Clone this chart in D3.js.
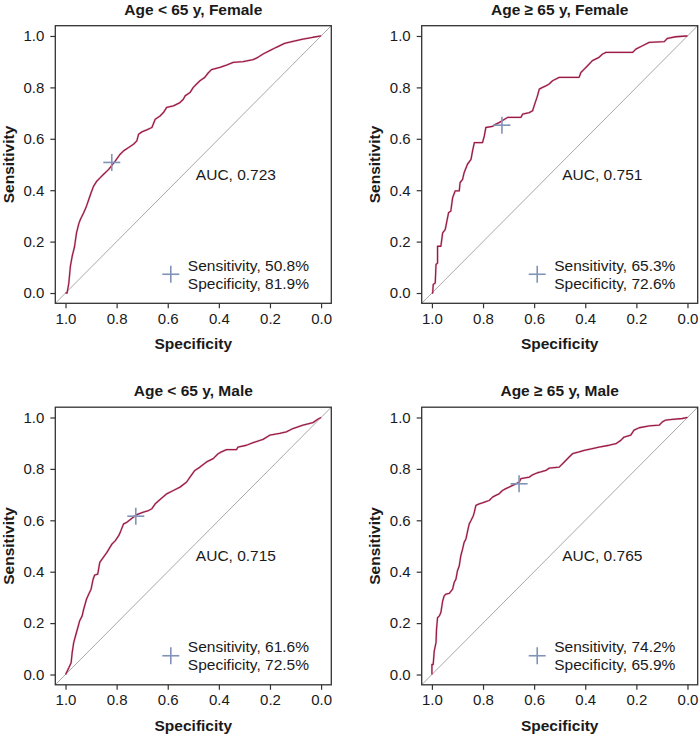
<!DOCTYPE html>
<html>
<head>
<meta charset="utf-8">
<script src="https://cdn.jsdelivr.net/npm/d3@7"></script>
<style>
  html, body { margin: 0; padding: 0; background: #fff; }
  svg { display: block; font-family: "Liberation Sans", Arial, Helvetica, sans-serif; }
</style>
</head>
<body>
<svg id="chart" width="700" height="736"></svg>
<script>
// ---------------- Data ----------------
const panelTitles = ["Age < 65 y, Female", "Age \u2265 65 y, Female", "Age < 65 y, Male", "Age \u2265 65 y, Male"];
const aucValues = ["0.723", "0.751", "0.715", "0.765"];
const bestSensitivity = [0.508, 0.653, 0.616, 0.742];
const bestSpecificity = [0.819, 0.726, 0.725, 0.659];
const tickValues = [0.0, 0.2, 0.4, 0.6, 0.8, 1.0];

// Panel 1: Age < 65 y, Female
const spec1 = [1.0, 0.994, 0.987, 0.981, 0.974, 0.965, 0.957, 0.948, 0.942, 0.929, 0.918, 0.909, 0.900, 0.890, 0.877, 0.864, 0.851, 0.831, 0.821, 0.805, 0.786, 0.773, 0.753, 0.734, 0.721, 0.714, 0.701, 0.682, 0.662, 0.649, 0.630, 0.617, 0.604, 0.578, 0.552, 0.539, 0.532, 0.513, 0.500, 0.487, 0.474, 0.455, 0.442, 0.429, 0.396, 0.370, 0.344, 0.305, 0.266, 0.247, 0.227, 0.201, 0.175, 0.143, 0.110, 0.071, 0.032, 0.0];
const sens1 = [0.0, 0.0, 0.039, 0.104, 0.143, 0.179, 0.234, 0.270, 0.286, 0.312, 0.338, 0.364, 0.390, 0.416, 0.436, 0.449, 0.462, 0.481, 0.494, 0.514, 0.540, 0.553, 0.566, 0.579, 0.592, 0.618, 0.627, 0.635, 0.644, 0.676, 0.689, 0.702, 0.722, 0.728, 0.741, 0.754, 0.767, 0.780, 0.800, 0.813, 0.826, 0.839, 0.856, 0.869, 0.878, 0.887, 0.897, 0.900, 0.908, 0.917, 0.930, 0.943, 0.956, 0.971, 0.979, 0.988, 0.995, 1.0];

// Panel 2: Age >= 65 y, Female
const spec2 = [1.0, 0.997, 0.995, 0.987, 0.984, 0.978, 0.978, 0.965, 0.958, 0.948, 0.935, 0.926, 0.919, 0.909, 0.893, 0.890, 0.880, 0.874, 0.861, 0.847, 0.841, 0.834, 0.802, 0.795, 0.789, 0.763, 0.750, 0.737, 0.711, 0.704, 0.652, 0.645, 0.619, 0.606, 0.600, 0.587, 0.580, 0.567, 0.554, 0.541, 0.528, 0.502, 0.424, 0.417, 0.404, 0.391, 0.372, 0.346, 0.332, 0.319, 0.215, 0.202, 0.176, 0.150, 0.091, 0.078, 0.046, 0.004, 0.0];
const sens2 = [0.0, 0.0, 0.033, 0.039, 0.111, 0.117, 0.182, 0.182, 0.234, 0.247, 0.312, 0.319, 0.371, 0.397, 0.397, 0.429, 0.442, 0.468, 0.501, 0.520, 0.553, 0.585, 0.585, 0.611, 0.644, 0.648, 0.657, 0.663, 0.679, 0.683, 0.683, 0.696, 0.702, 0.709, 0.728, 0.767, 0.793, 0.800, 0.806, 0.813, 0.826, 0.839, 0.839, 0.858, 0.871, 0.884, 0.904, 0.917, 0.930, 0.936, 0.936, 0.949, 0.962, 0.975, 0.978, 0.991, 0.997, 1.0, 1.0];

// Panel 3: Age < 65 y, Male
const spec3 = [1.0, 0.987, 0.978, 0.974, 0.968, 0.961, 0.952, 0.945, 0.935, 0.929, 0.918, 0.909, 0.900, 0.892, 0.886, 0.874, 0.866, 0.857, 0.838, 0.818, 0.805, 0.792, 0.786, 0.773, 0.760, 0.740, 0.721, 0.695, 0.675, 0.662, 0.649, 0.630, 0.604, 0.578, 0.552, 0.526, 0.513, 0.494, 0.474, 0.448, 0.422, 0.403, 0.390, 0.370, 0.331, 0.325, 0.292, 0.266, 0.227, 0.201, 0.162, 0.136, 0.110, 0.071, 0.032, 0.013, 0.0];
const sens3 = [0.0, 0.026, 0.046, 0.085, 0.124, 0.150, 0.182, 0.208, 0.228, 0.254, 0.293, 0.313, 0.332, 0.371, 0.387, 0.391, 0.436, 0.449, 0.475, 0.508, 0.521, 0.540, 0.553, 0.586, 0.592, 0.608, 0.622, 0.632, 0.638, 0.645, 0.664, 0.681, 0.703, 0.716, 0.729, 0.749, 0.768, 0.794, 0.807, 0.827, 0.840, 0.859, 0.866, 0.875, 0.875, 0.885, 0.892, 0.902, 0.915, 0.931, 0.938, 0.944, 0.957, 0.970, 0.980, 0.993, 1.0];

// Panel 4: Age >= 65 y, Male
const spec4 = [1.0, 1.0, 0.995, 0.991, 0.984, 0.982, 0.978, 0.971, 0.965, 0.958, 0.952, 0.945, 0.932, 0.919, 0.913, 0.906, 0.900, 0.893, 0.887, 0.880, 0.874, 0.867, 0.860, 0.854, 0.847, 0.838, 0.834, 0.828, 0.815, 0.802, 0.789, 0.776, 0.763, 0.750, 0.737, 0.724, 0.711, 0.698, 0.684, 0.671, 0.658, 0.652, 0.619, 0.606, 0.587, 0.574, 0.554, 0.541, 0.502, 0.482, 0.463, 0.450, 0.424, 0.404, 0.372, 0.346, 0.306, 0.280, 0.261, 0.248, 0.222, 0.209, 0.189, 0.150, 0.111, 0.098, 0.085, 0.059, 0.020, 0.0];
const sens4 = [0.0, 0.039, 0.039, 0.091, 0.124, 0.176, 0.221, 0.228, 0.241, 0.286, 0.306, 0.313, 0.316, 0.332, 0.358, 0.371, 0.404, 0.423, 0.462, 0.488, 0.514, 0.527, 0.560, 0.586, 0.599, 0.618, 0.632, 0.658, 0.664, 0.668, 0.673, 0.677, 0.690, 0.697, 0.703, 0.716, 0.723, 0.729, 0.736, 0.742, 0.749, 0.762, 0.768, 0.777, 0.785, 0.788, 0.794, 0.803, 0.807, 0.827, 0.846, 0.859, 0.866, 0.872, 0.879, 0.885, 0.892, 0.898, 0.911, 0.924, 0.931, 0.951, 0.960, 0.967, 0.970, 0.983, 0.990, 0.993, 0.996, 1.0];

const specs = [spec1, spec2, spec3, spec4];
const senss = [sens1, sens2, sens3, sens4];

// ---------------- Layout ----------------
const boxW = 276, boxH = 277.6;
const origins = [[55.3, 25.7], [421.7, 25.7], [55.3, 407.2], [421.7, 407.2]];
const curveColor = "#9b1b48";
const crossColor = "#8094b8";
const textColor = "#1a1a1a";

const svg = d3.select("#chart");

origins.forEach(([ox, oy], i) => {
  const g = svg.append("g").attr("transform", `translate(${ox},${oy})`);
  const x = d3.scaleLinear().domain([1.04, -0.04]).range([0, boxW]);
  const y = d3.scaleLinear().domain([-0.04, 1.04]).range([boxH, 0]);

  // diagonal reference line (spans whole plot region)
  g.append("line")
    .attr("x1", x(1.04)).attr("y1", y(-0.04))
    .attr("x2", x(-0.04)).attr("y2", y(1.04))
    .attr("stroke", "#a8a8a8").attr("stroke-width", 1);

  // ROC curve
  const pts = specs[i].map((s, k) => [s, senss[i][k]]);
  g.append("path")
    .datum(pts)
    .attr("fill", "none")
    .attr("stroke", "#d9a3b6")
    .attr("stroke-width", 2.2)
    .attr("stroke-opacity", 0.5)
    .attr("stroke-linejoin", "round")
    .attr("d", d3.line().x(d => x(d[0])).y(d => y(d[1])));
  g.append("path")
    .datum(pts)
    .attr("fill", "none")
    .attr("stroke", curveColor)
    .attr("stroke-width", 1.3)
    .attr("stroke-linejoin", "round")
    .attr("d", d3.line().x(d => x(d[0])).y(d => y(d[1])));

  // best-threshold cross
  const cx = x(bestSpecificity[i]), cy = y(bestSensitivity[i]);
  const cs = 8.5;
  g.append("line").attr("x1", cx - cs).attr("x2", cx + cs).attr("y1", cy).attr("y2", cy)
    .attr("stroke", crossColor).attr("stroke-width", 1.6);
  g.append("line").attr("x1", cx).attr("x2", cx).attr("y1", cy - cs).attr("y2", cy + cs)
    .attr("stroke", crossColor).attr("stroke-width", 1.6);

  // box
  g.append("rect").attr("x", 0).attr("y", 0).attr("width", boxW).attr("height", boxH)
    .attr("fill", "none").attr("stroke", "#333").attr("stroke-width", 1.3);

  // axes
  const xAxis = d3.axisBottom(x).tickValues(tickValues).tickSize(5).tickPadding(5)
    .tickFormat(d3.format(".1f"));
  const yAxis = d3.axisLeft(y).tickValues(tickValues).tickSize(5).tickPadding(6)
    .tickFormat(d3.format(".1f"));
  const gx = g.append("g").attr("transform", `translate(0,${boxH})`).call(xAxis);
  const gy = g.append("g").call(yAxis);
  [gx, gy].forEach(ax => {
    ax.select(".domain").remove();
    ax.selectAll(".tick line").attr("stroke", "#333").attr("stroke-width", 1.2);
    ax.selectAll(".tick text").attr("fill", textColor).style("font-size", "15px");
  });
  gx.selectAll(".tick text").attr("dy", "0.71em");

  // title
  g.append("text").attr("x", boxW / 2).attr("y", -11.2)
    .attr("text-anchor", "middle").attr("fill", textColor)
    .style("font-size", "15.5px").style("font-weight", "bold")
    .text(panelTitles[i]);

  // axis titles
  g.append("text").attr("x", boxW / 2).attr("y", boxH + 46)
    .attr("text-anchor", "middle").attr("fill", textColor)
    .style("font-size", "15.5px").style("font-weight", "bold")
    .text("Specificity");
  g.append("text")
    .attr("transform", `translate(-41.5,${boxH / 2}) rotate(-90)`)
    .attr("text-anchor", "middle").attr("fill", textColor)
    .style("font-size", "15.5px").style("font-weight", "bold")
    .text("Sensitivity");

  // AUC label
  g.append("text").attr("x", x(0.49)).attr("y", y(0.44))
    .attr("fill", textColor).style("font-size", "15.5px")
    .text("AUC, " + aucValues[i]);

  // legend cross + text
  const lx = x(0.588), ly = y(0.073);
  g.append("line").attr("x1", lx - cs).attr("x2", lx + cs).attr("y1", ly).attr("y2", ly)
    .attr("stroke", crossColor).attr("stroke-width", 1.6);
  g.append("line").attr("x1", lx).attr("x2", lx).attr("y1", ly - cs).attr("y2", ly + cs)
    .attr("stroke", crossColor).attr("stroke-width", 1.6);
  const fmt = v => (v * 100).toFixed(1) + "%";
  g.append("text").attr("x", lx + 17).attr("y", ly - 3.6)
    .attr("fill", textColor).style("font-size", "15.5px")
    .text("Sensitivity, " + fmt(bestSensitivity[i]));
  g.append("text").attr("x", lx + 17).attr("y", ly + 14.4)
    .attr("fill", textColor).style("font-size", "15.5px")
    .text("Specificity, " + fmt(bestSpecificity[i]));
});
</script>
</body>
</html>
